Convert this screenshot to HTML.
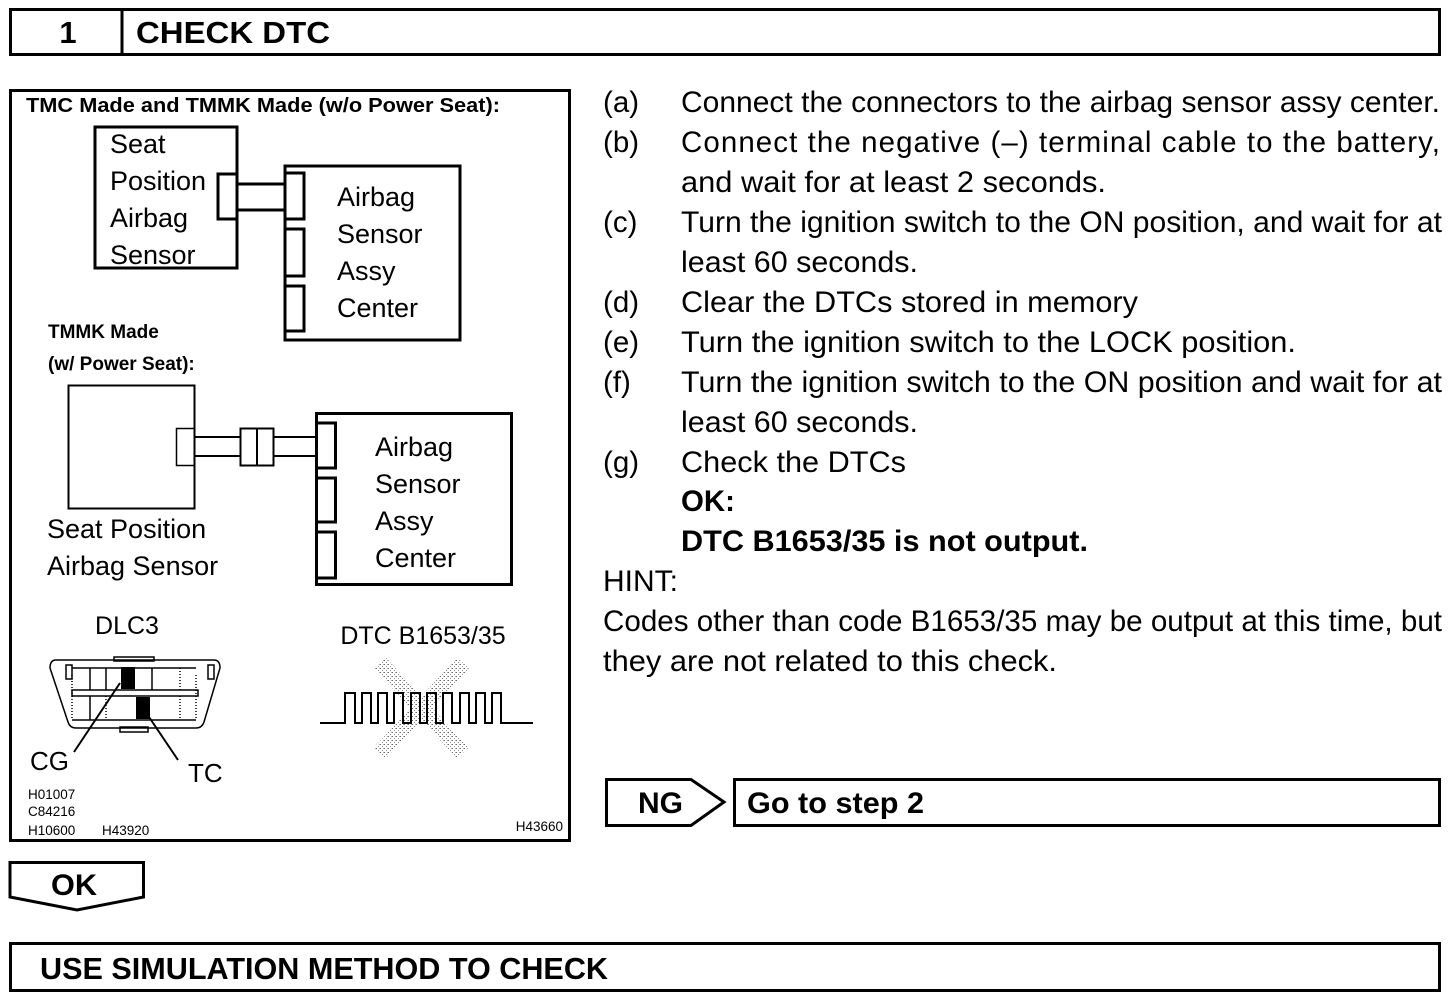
<!DOCTYPE html>
<html><head><meta charset="utf-8"><style>
html,body{margin:0;padding:0;background:#fff;}
svg{display:block;}
text{font-family:"Liberation Sans",sans-serif;fill:#000;}
</style></head><body>
<svg width="1456" height="1002" viewBox="0 0 1456 1002" xmlns="http://www.w3.org/2000/svg">
<defs>
<pattern id="stip" width="4" height="4" patternUnits="userSpaceOnUse">
<rect width="4" height="4" fill="#fff"/><rect x="0" y="0" width="1" height="1" fill="#666"/><rect x="2" y="2" width="1" height="1" fill="#888"/><rect x="3" y="0" width="1" height="1" fill="#aaa"/>
</pattern>
</defs>
<rect x="10.5" y="9.5" width="1429" height="45" fill="none" stroke="#000" stroke-width="3"/>
<line x1="122" y1="9" x2="122" y2="55" stroke="#000" stroke-width="3"/>
<text x="68" y="43" font-size="31" font-weight="bold" text-anchor="middle">1</text>
<text x="136" y="43" font-size="31" font-weight="bold" textLength="194" lengthAdjust="spacingAndGlyphs">CHECK DTC</text>

<rect x="10.5" y="90.5" width="559" height="750" fill="none" stroke="#000" stroke-width="3"/>
<text x="26" y="112" font-size="20" font-weight="bold" textLength="474" lengthAdjust="spacingAndGlyphs">TMC Made and TMMK Made (w/o Power Seat):</text>

<g fill="none" stroke="#000" stroke-width="3">
<rect x="95" y="127" width="142" height="141"/>
<rect x="218" y="174" width="19" height="45"/>
<line x1="237" y1="184" x2="285" y2="184"/>
<line x1="237" y1="210" x2="285" y2="210"/>
<rect x="285" y="166" width="175" height="174"/>
<rect x="285" y="173" width="19" height="46"/>
<rect x="285" y="229" width="19" height="47"/>
<rect x="285" y="286" width="19" height="45"/>
</g>
<g font-size="27">
<text x="110" y="153">Seat</text>
<text x="110" y="190">Position</text>
<text x="110" y="227">Airbag</text>
<text x="110" y="264">Sensor</text>
<text x="337" y="206">Airbag</text>
<text x="337" y="243">Sensor</text>
<text x="337" y="280">Assy</text>
<text x="337" y="317">Center</text>
</g>

<text x="48" y="338" font-size="19" font-weight="bold">TMMK Made</text>
<text x="48" y="370" font-size="19" font-weight="bold">(w/ Power Seat):</text>

<g fill="none" stroke="#000">
<rect x="68.5" y="385.5" width="126" height="123" stroke-width="2"/>
<rect x="176.5" y="428.5" width="18" height="37" stroke-width="1.5"/>
<line x1="194" y1="437" x2="240" y2="437" stroke-width="2"/>
<line x1="194" y1="456" x2="240" y2="456" stroke-width="2"/>
<rect x="240.5" y="428.5" width="33" height="37" stroke-width="2"/>
<line x1="257" y1="428" x2="257" y2="466" stroke-width="2"/>
<line x1="273" y1="437" x2="316" y2="437" stroke-width="2"/>
<line x1="273" y1="456" x2="316" y2="456" stroke-width="2"/>
<rect x="316.5" y="413.5" width="195" height="171" stroke-width="3"/>
<rect x="316.5" y="423" width="19" height="45" stroke-width="3"/>
<rect x="316.5" y="478" width="19" height="44" stroke-width="3"/>
<rect x="316.5" y="532" width="19" height="46" stroke-width="3"/>
</g>
<g font-size="27">
<text x="375" y="456">Airbag</text>
<text x="375" y="493">Sensor</text>
<text x="375" y="530">Assy</text>
<text x="375" y="567">Center</text>
<text x="47" y="538">Seat Position</text>
<text x="47" y="575">Airbag Sensor</text>
</g>

<text x="127" y="634" font-size="25" text-anchor="middle">DLC3</text>
<g fill="none" stroke="#000" stroke-width="1.5">
<path d="M56 660 Q50 660 50 668 L68 722 Q70 728 76 728 L196 728 Q202 728 204 722 L220 668 Q220 660 214 660 Z"/>
<rect x="66" y="665" width="6" height="14"/>
<rect x="208" y="665" width="6" height="14"/>
<line x1="72" y1="668" x2="196" y2="668"/>
<rect x="72" y="690" width="126" height="6"/>
<line x1="72" y1="675" x2="72" y2="720" stroke-dasharray="1 2"/>
<line x1="196" y1="675" x2="196" y2="720" stroke-dasharray="1 2"/>
<line x1="90" y1="668" x2="90" y2="690"/>
<line x1="106" y1="668" x2="106" y2="690"/>
<line x1="152" y1="668" x2="152" y2="690"/>
<line x1="180" y1="668" x2="180" y2="690" stroke-dasharray="1 2"/>
<line x1="90" y1="696" x2="90" y2="720"/>
<line x1="106" y1="696" x2="106" y2="720" stroke-dasharray="1 2"/>
<line x1="180" y1="696" x2="180" y2="720" stroke-dasharray="1 2"/>
<line x1="72" y1="720" x2="196" y2="720"/>
<rect x="114" y="657" width="40" height="4"/>
<rect x="120" y="727" width="28" height="5"/>
</g>
<rect x="121" y="667" width="14" height="22" fill="#000"/>
<rect x="136" y="697" width="14" height="22" fill="#000"/>
<line x1="74" y1="752" x2="120" y2="683" stroke="#000" stroke-width="2"/>
<line x1="149" y1="717" x2="178" y2="760" stroke="#000" stroke-width="2"/>
<text x="30" y="770" font-size="26">CG</text>
<text x="188" y="782" font-size="26">TC</text>

<text x="423" y="644" font-size="25" text-anchor="middle">DTC B1653/35</text>
<line x1="380" y1="663" x2="463" y2="753" stroke="url(#stip)" stroke-width="16"/>
<line x1="463" y1="663" x2="380" y2="753" stroke="url(#stip)" stroke-width="16"/>
<polyline fill="none" stroke="#000" stroke-width="2" points="320,723 345,723 345,693 355,693 355,723 362,723 362,693 371,693 371,723 378,723 378,693 387,693 387,723 394,723 394,693 403,693 403,723 411,723 411,693 420,693 420,723 427,723 427,693 436,693 436,723 443,723 443,693 452,693 452,723 460,723 460,693 469,693 469,723 476,723 476,693 485,693 485,723 492,723 492,693 501,693 501,723 533,723"/>

<g font-size="13.5">
<text x="28" y="799">H01007</text>
<text x="28" y="816">C84216</text>
<text x="28" y="835">H10600</text>
<text x="102" y="835">H43920</text>
<text x="563" y="831" text-anchor="end">H43660</text>
</g>

<g font-size="29.5">
<text x="603" y="112">(a)</text><text x="681" y="112" textLength="759" lengthAdjust="spacingAndGlyphs">Connect the connectors to the airbag sensor assy center.</text>
<text x="603" y="152">(b)</text><text x="681" y="152" textLength="759" lengthAdjust="spacing">Connect the negative (–) terminal cable to the battery,</text>
<text x="681" y="192" textLength="425" lengthAdjust="spacingAndGlyphs">and wait for at least 2 seconds.</text>
<text x="603" y="232">(c)</text><text x="681" y="232" textLength="761" lengthAdjust="spacingAndGlyphs">Turn the ignition switch to the ON position, and wait for at</text>
<text x="681" y="272" textLength="237" lengthAdjust="spacingAndGlyphs">least 60 seconds.</text>
<text x="603" y="312">(d)</text><text x="681" y="312" textLength="457" lengthAdjust="spacingAndGlyphs">Clear the DTCs stored in memory</text>
<text x="603" y="352">(e)</text><text x="681" y="352" textLength="615" lengthAdjust="spacingAndGlyphs">Turn the ignition switch to the LOCK position.</text>
<text x="603" y="392">(f)</text><text x="681" y="392" textLength="761" lengthAdjust="spacingAndGlyphs">Turn the ignition switch to the ON position and wait for at</text>
<text x="681" y="432" textLength="237" lengthAdjust="spacingAndGlyphs">least 60 seconds.</text>
<text x="603" y="472">(g)</text><text x="681" y="472" textLength="225" lengthAdjust="spacingAndGlyphs">Check the DTCs</text>
<text x="681" y="511" font-weight="bold" textLength="54" lengthAdjust="spacingAndGlyphs">OK:</text>
<text x="681" y="551" font-weight="bold" textLength="407" lengthAdjust="spacingAndGlyphs">DTC B1653/35 is not output.</text>
<text x="603" y="591" textLength="75" lengthAdjust="spacingAndGlyphs">HINT:</text>
<text x="603" y="631" textLength="839" lengthAdjust="spacingAndGlyphs">Codes other than code B1653/35 may be output at this time, but</text>
<text x="603" y="671" textLength="454" lengthAdjust="spacingAndGlyphs">they are not related to this check.</text>
</g>

<polygon points="606.5,779.5 691,779.5 724,802 691,825.5 606.5,825.5" fill="none" stroke="#000" stroke-width="3"/>
<text x="638" y="813" font-size="30" font-weight="bold" textLength="45" lengthAdjust="spacingAndGlyphs">NG</text>
<rect x="734.5" y="779.5" width="705" height="46" fill="none" stroke="#000" stroke-width="3"/>
<text x="747" y="813" font-size="30" font-weight="bold" textLength="177" lengthAdjust="spacingAndGlyphs">Go to step 2</text>

<polygon points="10,862.5 143.5,862.5 143.5,897 77,910 10,897" fill="none" stroke="#000" stroke-width="3"/>
<text x="51" y="895" font-size="30" font-weight="bold" textLength="46" lengthAdjust="spacingAndGlyphs">OK</text>

<rect x="10.5" y="943.5" width="1429" height="47" fill="none" stroke="#000" stroke-width="3"/>
<text x="40" y="979" font-size="31" font-weight="bold" textLength="568" lengthAdjust="spacingAndGlyphs">USE SIMULATION METHOD TO CHECK</text>
</svg>
</body></html>
